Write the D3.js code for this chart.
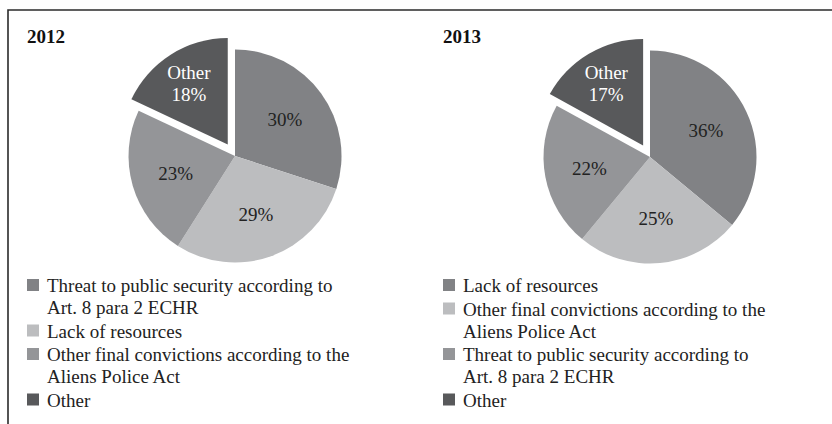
<!DOCTYPE html>
<html>
<head>
<meta charset="utf-8">
<script src="https://cdn.jsdelivr.net/npm/d3@7"></script>
<style>
  body { margin: 0; background: #fff; }
  text { font-family: "Liberation Serif", "Times New Roman", serif; }
</style>
</head>
<body>
<div id="chart"></div>
<script>
// data
var years = ["2012", "2013"];
var labels2012 = ["Threat to public security according to|Art. 8 para 2 ECHR", "Lack of resources", "Other final convictions according to the|Aliens Police Act", "Other"];
var values2012 = [30, 29, 23, 18];
var labels2013 = ["Lack of resources", "Other final convictions according to the|Aliens Police Act", "Threat to public security according to|Art. 8 para 2 ECHR", "Other"];
var values2013 = [36, 25, 22, 17];
var sliceColors = ["#818285", "#bcbdbf", "#949598", "#58595b"];

var svgWidth = 832, svgHeight = 424;

var svg = d3.select("#chart")
  .append("svg")
  .attr("width", svgWidth)
  .attr("height", svgHeight);

// frame: top and left lines only
svg.append("path")
  .attr("d", "M8,424 L8,10 L832,10")
  .attr("fill", "none")
  .attr("stroke", "#2b2b2b")
  .attr("stroke-width", 1.6);

var panels = [
  { year: years[0], labels: labels2012, values: values2012, cx: 235, cy: 156, left: 27 },
  { year: years[1], labels: labels2013, values: values2013, cx: 650, cy: 157, left: 443 }
];

var radius = 106.5;
var explode = 13.5;

var pie = d3.pie().sort(null).value(d => d);
var arc = d3.arc().innerRadius(0).outerRadius(radius);
var labelArc = d3.arc().innerRadius(radius * 0.58).outerRadius(radius * 0.58);
var otherLabelArc = d3.arc().innerRadius(radius * 0.68).outerRadius(radius * 0.68);

panels.forEach(function (p) {
  var g = svg.append("g");

  // year title
  g.append("text")
    .attr("x", p.left)
    .attr("y", 43)
    .attr("font-size", 19)
    .attr("font-weight", "bold")
    .attr("fill", "#111")
    .text(p.year);

  var pieGroup = g.append("g")
    .attr("transform", `translate(${p.cx}, ${p.cy})`);

  var arcs = pie(p.values);
  var last = arcs.length - 1;

  // offset for the exploded "Other" slice
  function shift(d, i) {
    if (i !== last) return [0, 0];
    var mid = (d.startAngle + d.endAngle) / 2;
    return [Math.sin(mid) * explode, -Math.cos(mid) * explode];
  }

  pieGroup.selectAll("path.slice")
    .data(arcs)
    .enter()
    .append("path")
    .attr("class", "slice")
    .attr("transform", (d, i) => `translate(${shift(d, i)})`)
    .attr("d", arc)
    .attr("fill", (d, i) => sliceColors[i]);

  // percent labels
  arcs.forEach(function (d, i) {
    var s = shift(d, i);
    if (i === last) {
      var c = otherLabelArc.centroid(d);
      var t = pieGroup.append("text")
        .attr("text-anchor", "middle")
        .attr("font-size", 19)
        .attr("fill", "#fff");
      t.append("tspan")
        .attr("x", c[0] + s[0])
        .attr("y", c[1] + s[1] - 4)
        .text("Other");
      t.append("tspan")
        .attr("x", c[0] + s[0])
        .attr("y", c[1] + s[1] + 18)
        .text(d.value + "%");
    } else {
      var c2 = labelArc.centroid(d);
      pieGroup.append("text")
        .attr("x", c2[0])
        .attr("y", c2[1])
        .attr("dy", "0.35em")
        .attr("text-anchor", "middle")
        .attr("font-size", 19)
        .attr("fill", "#222")
        .text(d.value + "%");
    }
  });

  // legend
  var y = 292;
  p.labels.forEach(function (lab, i) {
    var lines = lab.split("|");
    g.append("rect")
      .attr("x", p.left)
      .attr("y", y - 13)
      .attr("width", 12)
      .attr("height", 12)
      .attr("fill", sliceColors[i]);
    var t = g.append("text")
      .attr("font-size", 19)
      .attr("fill", "#222");
    lines.forEach(function (ln, j) {
      t.append("tspan")
        .attr("x", p.left + 20)
        .attr("y", y + j * 22)
        .text(ln);
    });
    y += (lines.length - 1) * 22 + 23.5;
  });
});
</script>
</body>
</html>
